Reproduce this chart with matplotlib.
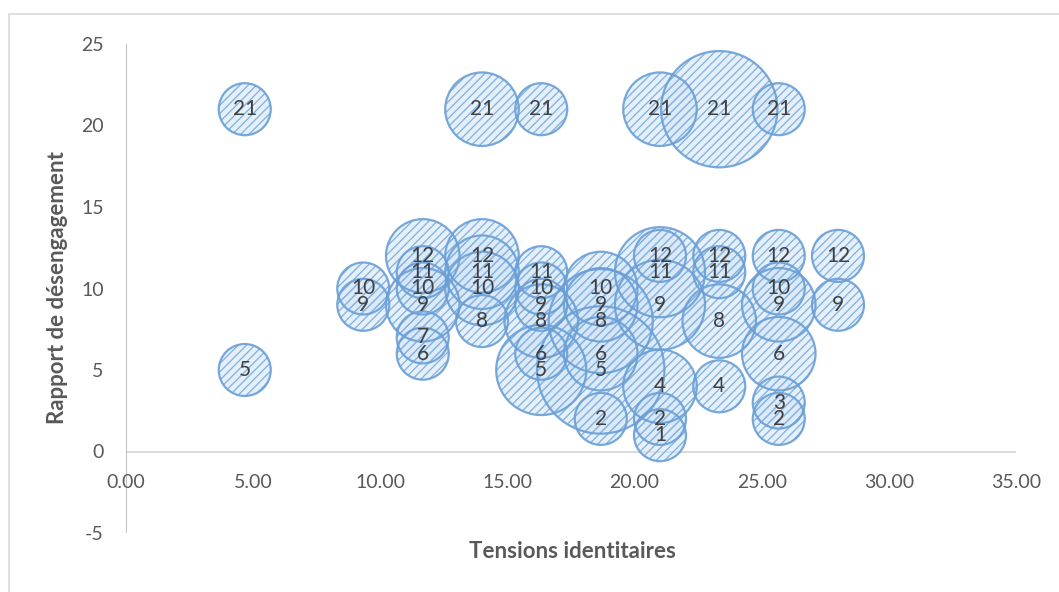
import matplotlib
matplotlib.use("Agg")
import matplotlib.pyplot as plt
from matplotlib.patches import Rectangle
import numpy as np

# ---- data (x = tensions identitaires, y = rapport de désengagement, size = bubble weight)
x_vals = [4.67, 4.67,
          9.33, 9.33,
          11.67, 11.67, 11.67, 11.67, 11.67, 11.67,
          14.00, 14.00, 14.00, 14.00, 14.00,
          16.33, 16.33, 16.33, 16.33, 16.33, 16.33, 16.33,
          18.67, 18.67, 18.67, 18.67, 18.67, 18.67,
          21.00, 21.00, 21.00, 21.00, 21.00, 21.00, 21.00,
          23.33, 23.33, 23.33, 23.33, 23.33,
          25.67, 25.67, 25.67, 25.67, 25.67, 25.67, 25.67,
          28.00, 28.00]
y_vals = [21, 5,
          10, 9,
          12, 11, 10, 9, 7, 6,
          21, 12, 11, 10, 8,
          21, 11, 10, 9, 8, 6, 5,
          10, 9, 8, 6, 5, 2,
          21, 12, 11, 9, 4, 2, 1,
          21, 12, 11, 8, 4,
          21, 12, 10, 9, 6, 3, 2,
          12, 9]
bubble_sizes = [1, 1,
                1, 1,
                2, 1, 1, 2, 1, 1,
                2, 2, 2, 2, 1,
                1, 1, 1, 1, 2, 1, 3,
                2, 2, 4, 2, 6, 1,
                2, 1, 3, 3, 2, 1, 1,
                5, 1, 1, 2, 1,
                1, 1, 1, 2, 2, 1, 1,
                1, 1]
x_ticks = [0, 5, 10, 15, 20, 25, 30, 35]
y_ticks = [-5, 0, 5, 10, 15, 20, 25]
x_title = "Tensions identitaires"
y_title = "Rapport de désengagement"

# ---- style
W, H, DPI = 1059, 592, 100
FONT = ["Lato", "DejaVu Sans"]
plt.rcParams["font.family"] = FONT
plt.rcParams["hatch.linewidth"] = 0.9
plt.rcParams["hatch.color"] = "#7eb0e2"

fig = plt.figure(figsize=(W / DPI, H / DPI), dpi=DPI)
fig.patch.set_facecolor("white")

# outer chart frame (only top/left visible inside the image)
fig.add_artist(Rectangle((8.5 / W, -0.05), 1.2, 1 - 13.5 / H + 0.05,
                         transform=fig.transFigure, fill=False,
                         edgecolor="#d9d9d9", linewidth=1.2))

left, right = 126 / W, 1016 / W
bottom, top = 1 - 533 / H, 1 - 44 / H
ax = fig.add_axes([left, bottom, right - left, top - bottom])
ax.set_xlim(0, 35)
ax.set_ylim(-5, 25)
ax.set_facecolor("none")
for sp in ax.spines.values():
    sp.set_visible(False)

ax.axhline(0, color="#d9d9d9", linewidth=1.4, zorder=1)
ax.axvline(0, color="#bfbfbf", linewidth=1.4, zorder=1)

# bubble area scaling: size 1 -> radius ~26 px
unit_s = (2 * 26 * 72 / DPI) ** 2
s = np.array(bubble_sizes) * unit_s

ax.scatter(x_vals, y_vals, s=s, facecolor=(0.84, 0.90, 0.97, 0.6),
           edgecolor="none", linewidth=0, hatch="////", zorder=2, clip_on=False)
ax.scatter(x_vals, y_vals, s=s, facecolor="none", edgecolor="#6a9fd6",
           linewidth=1.6, zorder=3, clip_on=False, alpha=0.9)

for xv, yv in zip(x_vals, y_vals):
    ax.text(xv, yv, f"{yv}", ha="center", va="center", fontsize=15,
            color="#404040", zorder=5)

# ticks
ax.spines["bottom"].set_position(("data", 0))
ax.set_xticks(x_ticks)
ax.set_xticklabels([f"{v:.2f}" for v in x_ticks])
ax.set_yticks(y_ticks)
ax.set_yticklabels([f"{v}" for v in y_ticks])
ax.tick_params(axis="x", length=0, pad=16, labelsize=14, labelcolor="#595959")
ax.tick_params(axis="y", length=0, pad=16, labelsize=14, labelcolor="#595959")

fig.text(572 / W, 1 - 552 / H, x_title, ha="center", va="center",
         fontsize=16, fontweight="bold", color="#595959")
fig.text(57 / W, 1 - 288 / H, y_title, ha="center", va="center",
         rotation=90, fontsize=16, fontweight="bold", color="#595959")

fig.savefig("out.png", dpi=DPI)
